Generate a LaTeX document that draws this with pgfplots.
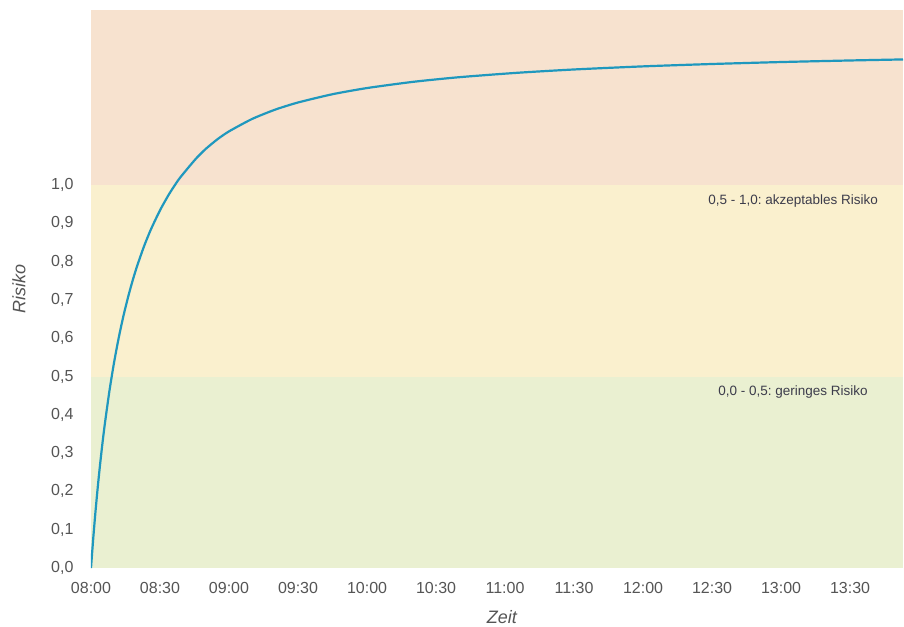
\documentclass[border=0pt]{standalone}
\usepackage{fontspec}
\setmainfont{Liberation Sans}
\usepackage{pgfplots}
\pgfplotsset{compat=1.18}
\definecolor{bandhigh}{RGB}{247,226,207}
\definecolor{bandmid}{RGB}{250,240,206}
\definecolor{bandlow}{RGB}{234,240,209}
\definecolor{curvecol}{RGB}{31,152,190}
\definecolor{ticktext}{RGB}{85,85,85}
\definecolor{annot}{RGB}{60,60,75}
\frenchspacing
\begin{document}
\begin{tikzpicture}
\begin{axis}[
  scale only axis, width=812pt, height=558pt,
  xmin=0, xmax=353, ymin=0, ymax=1.457,
  axis line style={draw=none},
  major tick length=0pt,
  xtick={0,30,60,90,120,150,180,210,240,270,300,330},
  xticklabels={08:00,08:30,09:00,09:30,10:00,10:30,11:00,11:30,12:00,12:30,13:00,13:30},
  ytick={0,0.1,0.2,0.3,0.4,0.5,0.6,0.7,0.8,0.9,1.0},
  yticklabels={{0,0},{0,1},{0,2},{0,3},{0,4},{0,5},{0,6},{0,7},{0,8},{0,9},{1,0}},
  tick label style={font=\fontsize{16}{18}\selectfont, text=ticktext},
  yticklabel style={anchor=east, xshift=-14pt},
  xticklabel style={anchor=north, yshift=-11pt},
  xlabel={Zeit}, ylabel={Risiko},
  xlabel style={at={(axis description cs:0.506,-0.0887)}, anchor=center, font=\fontsize{18}{20}\selectfont\itshape, text=ticktext},
  ylabel style={at={(axis description cs:-0.0887,0.5)}, anchor=center, font=\fontsize{18}{20}\selectfont\itshape, text=ticktext},
  clip=true,
]
\addplot[draw=none, fill=bandhigh] coordinates {(0,1.457) (353,1.457)} \closedcycle;
\addplot[draw=none, fill=bandmid] coordinates {(0,1.0) (353,1.0)} \closedcycle;
\addplot[draw=none, fill=bandlow] coordinates {(0,0.5) (353,0.5)} \closedcycle;
\addplot[curvecol, line width=2.2pt, smooth, tension=0.4] coordinates {
(0,0) (1,0.0793) (2,0.1505) (3,0.2149) (4,0.2733) (5,0.3267) (6,0.3755) (8,0.4618)
(10,0.5357) (12,0.5996) (14,0.6555) (16,0.7047) (18,0.7485) (20,0.7876) (23,0.8391)
(26,0.8835) (30,0.9340) (34,0.9768) (38,1.0134) (42,1.0432) (46,1.0713) (50,1.0949)
(55,1.1196) (60,1.1401) (70,1.1724) (80,1.1967) (90,1.2155) (105,1.2371) (120,1.2532)
(140,1.2694) (160,1.2815) (185,1.2929) (210,1.3017) (240,1.3098) (270,1.3160)
(300,1.3211) (330,1.3252) (353,1.3279)};
\node[font=\fontsize{13.5}{15}\selectfont, text=annot] at (axis cs:305.2,0.958) {0,5 - 1,0: akzeptables Risiko};
\node[font=\fontsize{13.5}{15}\selectfont, text=annot] at (axis cs:305.2,0.460) {0,0 - 0,5: geringes Risiko};
\end{axis}
\pgfresetboundingbox
\path ([shift={(-91pt,-58pt)}]current axis.south west) rectangle ([shift={(1pt,10pt)}]current axis.north east);
\end{tikzpicture}
\end{document}
